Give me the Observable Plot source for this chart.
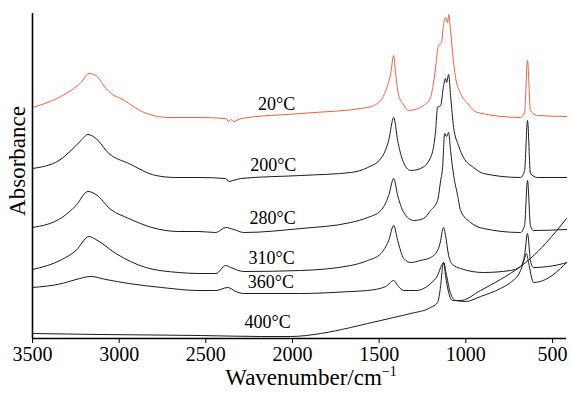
<!DOCTYPE html>
<html>
<head>
<meta charset="utf-8">
<script src="https://cdn.jsdelivr.net/npm/d3@7"></script>
<script src="https://cdn.jsdelivr.net/npm/@observablehq/plot@0.6"></script>
<style>
  html, body { margin: 0; padding: 0; background: #fff; }
  #chart svg { display: block; }
</style>
</head>
<body>
<div id="chart"></div>
<script>
// Wavenumber (cm^-1) and offset absorbance (arbitrary units) per temperature
const s20 = [[3500,2.31],[3347,2.41],[3278,2.48],[3220,2.56],[3174,2.65],[3134,2.63],[3076,2.50],[3030,2.43],[2990,2.40],[2944,2.35],[2869,2.27],[2713,2.21],[2540,2.21],[2385,2.20],[2367,2.17],[2356,2.19],[2339,2.17],[2298,2.20],[1952,2.25],[1566,2.31],[1490,2.38],[1462,2.48],[1433,2.65],[1416,2.83],[1405,2.65],[1387,2.43],[1364,2.35],[1330,2.28],[1243,2.33],[1203,2.41],[1191,2.51],[1174,2.71],[1163,2.88],[1157,2.93],[1140,2.96],[1128,3.15],[1117,3.21],[1105,3.16],[1099,3.24],[1088,3.08],[1076,2.85],[1059,2.61],[1030,2.45],[990,2.35],[932,2.26],[684,2.21],[661,2.26],[644,2.78],[627,2.28],[586,2.23],[419,2.22]];
const s200 = [[3500,1.70],[3347,1.78],[3278,1.88],[3220,1.98],[3180,2.04],[3134,2.00],[3059,1.85],[2944,1.75],[2788,1.63],[2673,1.61],[2540,1.61],[2385,1.60],[2367,1.57],[2344,1.58],[2298,1.60],[1952,1.63],[1664,1.66],[1566,1.71],[1490,1.80],[1445,1.98],[1416,2.21],[1393,1.98],[1364,1.78],[1318,1.68],[1261,1.70],[1203,1.81],[1174,2.08],[1163,2.31],[1145,2.33],[1128,2.53],[1117,2.60],[1111,2.56],[1099,2.64],[1088,2.43],[1070,2.11],[1042,1.93],[1013,1.81],[955,1.71],[898,1.65],[684,1.61],[661,1.68],[644,2.18],[627,1.65],[586,1.61],[511,1.61],[419,1.61]];
const s280 = [[3500,1.11],[3330,1.21],[3249,1.33],[3180,1.47],[3134,1.44],[3048,1.29],[2944,1.20],[2811,1.11],[2656,1.07],[2540,1.07],[2442,1.06],[2385,1.11],[2339,1.09],[2281,1.06],[1952,1.10],[1664,1.16],[1566,1.21],[1490,1.28],[1445,1.43],[1416,1.60],[1393,1.43],[1358,1.26],[1301,1.18],[1243,1.20],[1203,1.28],[1163,1.38],[1145,1.58],[1134,1.71],[1122,2.05],[1111,2.02],[1099,2.06],[1088,1.88],[1070,1.63],[1047,1.43],[1030,1.28],[972,1.16],[898,1.10],[684,1.06],[661,1.13],[644,1.58],[627,1.13],[609,1.08],[419,1.09]];
const s310 = [[3500,0.69],[3330,0.79],[3249,0.88],[3174,1.02],[3134,0.99],[3019,0.85],[2846,0.71],[2656,0.66],[2540,0.65],[2442,0.65],[2385,0.73],[2356,0.71],[2281,0.67],[1952,0.68],[1664,0.73],[1566,0.78],[1490,0.85],[1445,0.98],[1416,1.13],[1393,0.98],[1358,0.80],[1318,0.76],[1261,0.78],[1203,0.81],[1163,0.88],[1145,0.98],[1134,1.09],[1128,1.11],[1117,1.03],[1099,0.83],[1076,0.74],[1030,0.70],[898,0.66],[742,0.68],[684,0.72],[661,0.83],[644,1.05],[627,0.78],[609,0.71],[436,0.75],[419,0.76]];
const s360 = [[3500,0.51],[3330,0.55],[3249,0.59],[3163,0.62],[3076,0.59],[2944,0.55],[2754,0.51],[2540,0.48],[2442,0.48],[2373,0.51],[2327,0.47],[2281,0.45],[1952,0.45],[1664,0.47],[1566,0.48],[1462,0.52],[1416,0.58],[1393,0.53],[1358,0.48],[1289,0.48],[1203,0.55],[1163,0.63],[1140,0.73],[1128,0.76],[1111,0.63],[1088,0.45],[1059,0.38],[1001,0.37],[915,0.42],[800,0.50],[742,0.56],[684,0.68],[661,0.80],[650,0.85],[638,0.76],[609,0.56],[540,0.59],[454,0.70],[419,0.76]];
const s400 = [[3500,0.05],[3105,0.04],[2529,0.03],[2183,0.02],[2010,0.02],[1837,0.05],[1664,0.11],[1566,0.15],[1416,0.21],[1318,0.25],[1203,0.31],[1163,0.36],[1145,0.53],[1134,0.72],[1128,0.76],[1117,0.63],[1099,0.46],[1076,0.38],[1030,0.38],[915,0.48],[800,0.59],[684,0.72],[627,0.80],[540,0.95],[419,1.20]];

const temps  = ["20°C", "200°C", "280°C", "310°C", "360°C", "400°C"];
const labelX = [2091, 2111, 2114, 2120, 2125, 2143];
const labelY = [2.34, 1.73, 1.20, 0.80, 0.56, 0.16];
const xTicks = [3500, 3000, 2500, 2000, 1500, 1000, 500];
const xDomain = [3500, 419];
const yDomain = [0, 3.25];

const seriesList = [s20, s200, s280, s310, s360, s400];
const colors = ["#f0613f", "#1c1c1c", "#1c1c1c", "#1c1c1c", "#1c1c1c", "#1c1c1c"];

const rows = [];
seriesList.forEach((s, i) => s.forEach(([w, a]) => rows.push({w, a, t: temps[i]})));
const labels = temps.map((t, i) => ({t, x: labelX[i], y: labelY[i]}));

const serif = "'Liberation Serif', 'Times New Roman', serif";

const chart = Plot.plot({
  width: 571,
  height: 394,
  marginLeft: 32,
  marginRight: 5,
  marginTop: 13,
  marginBottom: 56,
  style: {fontFamily: serif, fontSize: "20px", background: "#fff", color: "#000"},
  x: {domain: xDomain},
  y: {domain: yDomain},
  color: {domain: temps, range: colors},
  marks: [
    Plot.axisX({ticks: xTicks, tickSize: 5, tickPadding: 3, tickFormat: d => String(d), label: null, fontSize: 20}),
    Plot.axisY({ticks: [], label: null}),
    Plot.line(rows, {x: "w", y: "a", z: "t", stroke: "t", strokeWidth: 1, curve: "monotone-x"}),
    Plot.text(labels, {x: "x", y: "y", text: "t", fontSize: 18, fill: "#000"}),
    Plot.ruleX([xDomain[0]], {strokeWidth: 1.6}),
    Plot.ruleY([yDomain[0]], {strokeWidth: 1.6})
  ]
});

const svg = d3.select(chart);
svg.append("text")
  .attr("transform", "translate(25,161) rotate(-90)")
  .attr("text-anchor", "middle")
  .attr("font-family", serif)
  .attr("font-size", 23)
  .attr("fill", "#000")
  .text("Absorbance");
const xt = svg.append("text")
  .attr("x", 311).attr("y", 385)
  .attr("text-anchor", "middle")
  .attr("font-family", serif)
  .attr("font-size", 23)
  .attr("fill", "#000");
xt.append("tspan").text("Wavenumber/cm");
xt.append("tspan").attr("font-size", 14).attr("dy", -9).text("−1");

document.getElementById("chart").appendChild(chart);
</script>
</body>
</html>
